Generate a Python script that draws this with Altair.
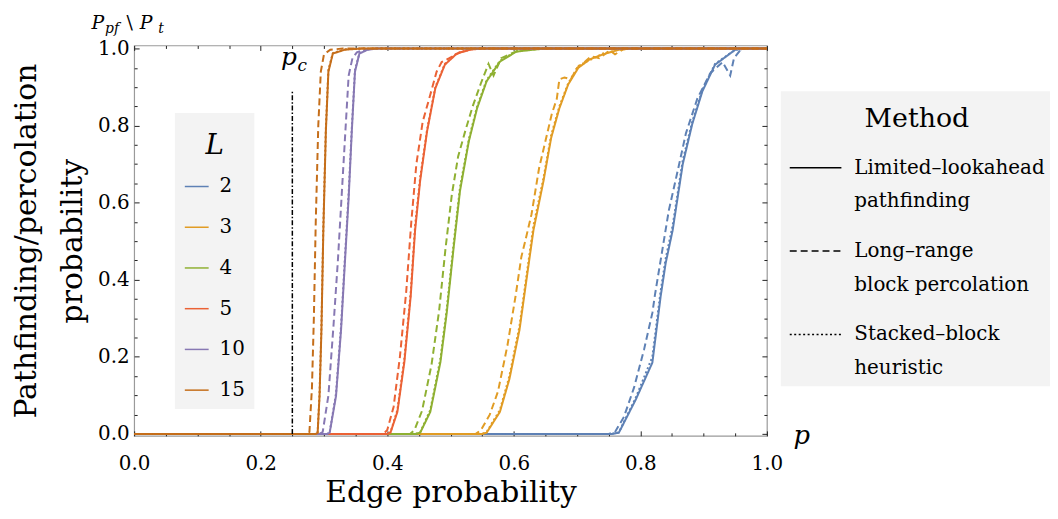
import altair as alt
import pandas as pd

# ---------------- data ----------------
L_values = ["2", "3", "4", "5", "10", "15"]
L_colors = ["#5E81B5", "#E19C24", "#8FB032", "#EB6235", "#8778B3", "#C56E1A"]
methods = ["Limited–lookahead pathfinding", "Long–range block percolation", "Stacked–block heuristic"]
method_dash = [[1, 0], [7, 4], [2, 2.5]]

# L = 2
L2_solid_p = [0, 0.755, 0.766, 0.793, 0.819, 0.832, 0.840, 0.851, 0.867, 0.882, 0.898, 0.918, 0.950, 0.970, 1.0]
L2_solid_v = [0, 0, 0.003, 0.09, 0.185, 0.356, 0.443, 0.528, 0.70, 0.804, 0.889, 0.958, 0.997, 1.0, 1.0]
L2_dotted_v = [0, 0, 0.004, 0.095, 0.20, 0.37, 0.455, 0.54, 0.71, 0.81, 0.893, 0.96, 0.997, 1.0, 1.0]
L2_dashed_p = [0, 0.750, 0.760, 0.774, 0.790, 0.806, 0.819, 0.823, 0.834, 0.845, 0.860, 0.872, 0.890, 0.910, 0.930, 0.942, 0.948, 0.960, 1.0]
L2_dashed_v = [0, 0, 0.005, 0.044, 0.12, 0.22, 0.314, 0.36, 0.47, 0.58, 0.69, 0.78, 0.87, 0.935, 0.965, 0.93, 0.975, 1.0, 1.0]

# L = 3
L3_solid_p = [0, 0.550, 0.557, 0.578, 0.593, 0.609, 0.620, 0.631, 0.647, 0.659, 0.672, 0.686, 0.702, 0.720, 0.741, 0.766, 0.785, 1.0]
L3_solid_v = [0, 0, 0.003, 0.057, 0.142, 0.27, 0.40, 0.528, 0.657, 0.768, 0.845, 0.907, 0.950, 0.972, 0.985, 0.997, 1.0, 1.0]
L3_dotted_v = [0, 0, 0.005, 0.062, 0.15, 0.28, 0.41, 0.54, 0.665, 0.775, 0.85, 0.91, 0.955, 0.97, 0.987, 0.997, 1.0, 1.0]
L3_dashed_p = [0, 0.540, 0.548, 0.562, 0.575, 0.590, 0.603, 0.612, 0.618, 0.628, 0.640, 0.650, 0.660, 0.668, 0.672, 0.680, 0.690, 0.700, 0.712, 0.722, 0.735, 0.752, 0.760, 0.775, 1.0]
L3_dashed_v = [0, 0, 0.01, 0.05, 0.11, 0.23, 0.36, 0.46, 0.50, 0.57, 0.69, 0.76, 0.83, 0.87, 0.92, 0.925, 0.92, 0.95, 0.965, 0.98, 0.975, 0.995, 0.985, 1.0, 1.0]

# L = 4
L4_solid_p = [0, 0.445, 0.452, 0.468, 0.484, 0.494, 0.505, 0.515, 0.529, 0.542, 0.557, 0.578, 0.604, 0.631, 0.650, 1.0]
L4_solid_v = [0, 0, 0.003, 0.057, 0.186, 0.314, 0.485, 0.631, 0.76, 0.845, 0.915, 0.966, 0.992, 0.997, 1.0, 1.0]
L4_dotted_v = [0, 0, 0.004, 0.062, 0.195, 0.325, 0.495, 0.64, 0.765, 0.85, 0.918, 0.968, 0.993, 0.998, 1.0, 1.0]
L4_dashed_p = [0, 0.436, 0.443, 0.455, 0.470, 0.482, 0.492, 0.502, 0.512, 0.524, 0.535, 0.548, 0.560, 0.568, 0.580, 0.600, 0.620, 1.0]
L4_dashed_v = [0, 0, 0.01, 0.06, 0.18, 0.32, 0.48, 0.62, 0.72, 0.79, 0.85, 0.91, 0.96, 0.93, 0.975, 0.99, 1.0, 1.0]

# L = 5
L5_solid_p = [0, 0.400, 0.405, 0.416, 0.427, 0.437, 0.444, 0.452, 0.463, 0.476, 0.491, 0.510, 0.531, 0.550, 1.0]
L5_solid_v = [0, 0, 0.003, 0.057, 0.186, 0.356, 0.528, 0.657, 0.786, 0.897, 0.958, 0.987, 0.997, 1.0, 1.0]
L5_dotted_v = [0, 0, 0.004, 0.062, 0.195, 0.365, 0.54, 0.665, 0.79, 0.9, 0.96, 0.988, 0.998, 1.0, 1.0]
L5_dashed_p = [0, 0.394, 0.400, 0.410, 0.420, 0.430, 0.438, 0.446, 0.456, 0.468, 0.478, 0.486, 0.498, 0.515, 0.535, 1.0]
L5_dashed_v = [0, 0, 0.01, 0.07, 0.2, 0.37, 0.55, 0.70, 0.81, 0.88, 0.94, 0.965, 0.975, 0.99, 1.0, 1.0]

# L = 10
L10_solid_p = [0, 0.305, 0.309, 0.319, 0.327, 0.333, 0.339, 0.344, 0.349, 0.356, 0.369, 0.385, 1.0]
L10_solid_v = [0, 0, 0.003, 0.098, 0.27, 0.443, 0.613, 0.786, 0.94, 0.987, 0.997, 1.0, 1.0]
L10_dotted_v = [0, 0, 0.004, 0.105, 0.28, 0.455, 0.625, 0.795, 0.945, 0.988, 0.998, 1.0, 1.0]
L10_dashed_p = [0, 0.293, 0.298, 0.307, 0.315, 0.322, 0.328, 0.334, 0.339, 0.345, 0.352, 0.362, 0.380, 1.0]
L10_dashed_v = [0, 0, 0.005, 0.10, 0.28, 0.45, 0.62, 0.79, 0.93, 0.975, 0.99, 0.997, 1.0, 1.0]

# L = 15
L15_solid_p = [0, 0.287, 0.290, 0.293, 0.296, 0.299, 0.303, 0.307, 0.314, 0.333, 0.36, 1.0]
L15_solid_v = [0, 0, 0.003, 0.098, 0.27, 0.528, 0.786, 0.94, 0.987, 0.997, 1.0, 1.0]
L15_dotted_v = [0, 0, 0.004, 0.105, 0.28, 0.54, 0.795, 0.945, 0.988, 0.998, 1.0, 1.0]
L15_dashed_p = [0, 0.272, 0.277, 0.281, 0.284, 0.287, 0.291, 0.295, 0.300, 0.310, 0.330, 1.0]
L15_dashed_v = [0, 0, 0.005, 0.12, 0.30, 0.55, 0.80, 0.94, 0.985, 0.997, 1.0, 1.0]

p_critical = 0.25
p_critical_top = 0.889

x_tick_labels = [0.0, 0.2, 0.4, 0.6, 0.8, 1.0]
y_tick_labels = [0.0, 0.2, 0.4, 0.6, 0.8, 1.0]
minor_ticks = [round(i * 0.05, 2) for i in range(21)]

# ---------------- build table ----------------
curves = [
    ("2", L2_solid_p, L2_solid_v, L2_dashed_p, L2_dashed_v, L2_dotted_v),
    ("3", L3_solid_p, L3_solid_v, L3_dashed_p, L3_dashed_v, L3_dotted_v),
    ("4", L4_solid_p, L4_solid_v, L4_dashed_p, L4_dashed_v, L4_dotted_v),
    ("5", L5_solid_p, L5_solid_v, L5_dashed_p, L5_dashed_v, L5_dotted_v),
    ("10", L10_solid_p, L10_solid_v, L10_dashed_p, L10_dashed_v, L10_dotted_v),
    ("15", L15_solid_p, L15_solid_v, L15_dashed_p, L15_dashed_v, L15_dotted_v),
]
rows = []
for L, sp, sv, dp, dv, tv in curves:
    for m, xs_, ys_ in [(methods[0], sp, sv), (methods[2], sp, tv), (methods[1], dp, dv)]:
        for i, (a, b) in enumerate(zip(xs_, ys_)):
            rows.append({"p": a, "P": b, "L": L, "method": m, "series": f"{L}|{m}", "i": i})
df = pd.DataFrame(rows)

W, H = 637, 393
FONT = "DejaVu Serif"
xs = alt.Scale(domain=[0, 1], nice=False, zero=False)
ys = alt.Scale(domain=[-0.005, 1.008], nice=False, zero=False)

lines = alt.Chart(df).mark_line(strokeWidth=2).encode(
    x=alt.X("p:Q", scale=xs, title="Edge probability",
            axis=alt.Axis(values=x_tick_labels, format=".1f", ticks=False, domain=False, grid=False,
                          labelFontSize=20, labelPadding=18, labelFlush=False, titleFontSize=30,
                          titlePadding=4, titleFontWeight="normal")),
    y=alt.Y("P:Q", scale=ys, title=["Pathfinding/percolation", "probability"],
            axis=alt.Axis(values=y_tick_labels, format=".1f", ticks=False, domain=False, grid=False,
                          labelFontSize=20, labelPadding=5, labelFlush=False, titleFontSize=30,
                          titleLineHeight=47, titlePadding=10, titleFontWeight="normal")),
    color=alt.Color("L:N", scale=alt.Scale(domain=L_values, range=L_colors),
                    legend=alt.Legend(title="L", orient="none", legendX=41, legendY=68,
                                      titleFontStyle="italic", titleFontSize=28, titleFontWeight="normal",
                                      titleAnchor="middle", titleBaseline="line-top", titleLineHeight=48,
                                      titlePadding=24, labelFontSize=20,
                                      symbolType="stroke", symbolSize=576, symbolStrokeWidth=1.5,
                                      fillColor="#f3f3f3", padding=9, rowPadding=18, labelOffset=10)),
    strokeDash=alt.StrokeDash("method:N", scale=alt.Scale(domain=methods, range=method_dash),
                              legend=alt.Legend(title="Method", orient="none", legendX=651, legendY=46,
                                                titleFontSize=27, titleFontWeight="normal",
                                                titleAnchor="middle", titleBaseline="line-top", titleLineHeight=41,
                                                titlePadding=15, labelFontSize=20,
                                                labelExpr="[slice(datum.label, 0, indexof(datum.label, ' ')), slice(datum.label, indexof(datum.label, ' ') + 1)]",
                                                symbolType="stroke", symbolSize=2704, symbolStrokeWidth=1.5,
                                                symbolStrokeColor="black", fillColor="#f3f3f3",
                                                padding=8, rowPadding=13, labelOffset=12, labelLimit=400)),
    detail="series:N",
    order="i:Q",
)

pc_df = pd.DataFrame({"p": [p_critical], "P": [0.0], "P2": [p_critical_top]})
pc_line = alt.Chart(pc_df).mark_rule(color="black", strokeWidth=1.5, strokeDash=[5, 2, 1.5, 2]).encode(
    x="p:Q", y="P:Q", y2="P2:Q"
)

# annotation labels (placed in data coordinates)
ann_italic = pd.DataFrame({
    "text": ["p", "c", "P", "pf", "P", "t", "p"],
    "p": [0.232, 0.258, -0.0675, -0.046, 0.009, 0.038, 1.042],
    "P": [0.956, 0.943, 1.052, 1.040, 1.052, 1.040, -0.025],
    "size": [25, 17, 19, 14, 19, 14, 26],
})
ann_upright = pd.DataFrame({"text": ["\\"], "p": [-0.012], "P": [1.052], "size": [19]})

txt_i = alt.Chart(ann_italic).mark_text(fontStyle="italic", align="left", baseline="alphabetic", color="black").encode(
    x="p:Q", y="P:Q", text="text:N", size=alt.Size("size:Q", scale=None, legend=None)
)
txt_u = alt.Chart(ann_upright).mark_text(align="left", baseline="alphabetic", color="black").encode(
    x="p:Q", y="P:Q", text="text:N", size=alt.Size("size:Q", scale=None, legend=None)
)

main = alt.layer(lines, pc_line, txt_i, txt_u)

tdf = pd.DataFrame({"t": minor_ticks})
major = "abs(datum.value * 5 - round(datum.value * 5)) < 0.001"
tsize = {"condition": {"test": major, "value": 5}, "value": 3}

ticks_a = alt.Chart(tdf).mark_point(opacity=0).encode(
    x=alt.X("t:Q", scale=xs, title=None,
            axis=alt.Axis(orient="top", offset=-H, values=minor_ticks, labels=False, domain=False, grid=False,
                          tickSize=tsize, tickColor="#222", tickWidth=1)),
    y=alt.Y("t:Q", scale=ys, title=None,
            axis=alt.Axis(orient="right", offset=-W, values=minor_ticks, labels=False, domain=False, grid=False,
                          tickSize=tsize, tickColor="#222", tickWidth=1)),
)
ticks_b = alt.Chart(tdf).mark_point(opacity=0).encode(
    x=alt.X("t:Q", scale=xs, title=None,
            axis=alt.Axis(orient="bottom", offset=-H, values=minor_ticks, labels=False, domain=False, grid=False,
                          tickSize=tsize, tickColor="#222", tickWidth=1)),
    y=alt.Y("t:Q", scale=ys, title=None,
            axis=alt.Axis(orient="left", offset=-W, values=minor_ticks, labels=False, domain=False, grid=False,
                          tickSize=tsize, tickColor="#222", tickWidth=1)),
)

chart = alt.layer(main, ticks_a, ticks_b).resolve_scale(
    x="independent", y="independent"
).properties(
    width=W, height=H,
    autosize=alt.AutoSizeParams(type="none"),
    padding={"left": 127, "top": 36, "right": 285, "bottom": 80},
).configure(
    font=FONT, style={"guide-label": {"lineHeight": 34}}
).configure_view(
    stroke="#9a9a9a", strokeWidth=1.2
).configure_axis(
    labelColor="black", titleColor="black", labelFont=FONT, titleFont=FONT
).configure_legend(
    labelColor="black", titleColor="black", labelFont=FONT, titleFont=FONT, cornerRadius=0
).configure_text(font=FONT)

chart.save("out.html", embed_options={"renderer": "svg", "actions": False})
